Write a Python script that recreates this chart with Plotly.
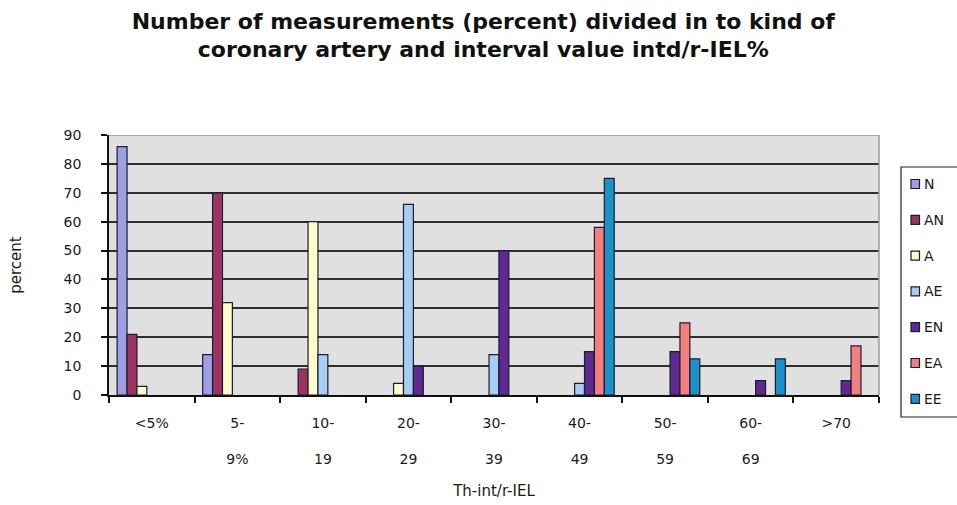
import plotly.graph_objects as go

# Interval classes of intd/r-IEL%
categories = ["<5%", "5-9%", "10-19", "20-29", "30-39", "40-49", "50-59", "60-69", ">70"]
tick_labels = ["<5%", "5-<br><br>9%", "10-<br><br>19", "20-<br><br>29", "30-<br><br>39",
               "40-<br><br>49", "50-<br><br>59", "60-<br><br>69", ">70"]

# Percent of measurements per coronary artery kind
N  = [86, 14, 0, 0, 0, 0, 0, 0, 0]
AN = [21, 70, 9, 0, 0, 0, 0, 0, 0]
A  = [3, 32, 60, 4, 0, 0, 0, 0, 0]
AE = [0, 0, 14, 66, 14, 4, 0, 0, 0]
EN = [0, 0, 0, 10, 50, 15, 15, 5, 5]
EA = [0, 0, 0, 0, 0, 58, 25, 0, 17]
EE = [0, 0, 0, 0, 0, 75, 12.5, 12.5, 0]

series = [
    ("N", N, "#9c9ee6"),
    ("AN", AN, "#9c3462"),
    ("A", A, "#fdfdcc"),
    ("AE", AE, "#a8cdf2"),
    ("EN", EN, "#5e2a91"),
    ("EA", EA, "#f47e7e"),
    ("EE", EE, "#1b93c6"),
]

FONT = "DejaVu Sans"
OUTLINE = "#1c1c30"

# figure geometry (pixels)
W, H = 957, 505
ML, MR, MT, MB = 109, 78, 135, 110
PW, PH = W - ML - MR, H - MT - MB


def px_x(p):
    return (p - ML) / PW


def px_y(p):
    return (H - MB - p) / PH


fig = go.Figure()
for name, vals, color in series:
    fig.add_trace(go.Bar(
        x=categories, y=[v if v else None for v in vals], name=name,
        marker=dict(color=color, line=dict(color=OUTLINE, width=1.2)),
        showlegend=False,
    ))

fig.update_layout(
    width=W, height=H,
    margin=dict(l=ML, r=MR, t=MT, b=MB, autoexpand=False),
    paper_bgcolor="white",
    plot_bgcolor="#e0e0e0",
    barmode="group", bargap=0.19, bargroupgap=0,
    font=dict(family=FONT, size=14, color="#1a1a1a"),
    title=dict(
        text="Number of measurements (percent) divided in to kind of<br>coronary artery and interval value intd/r-IEL%",
        font=dict(family=FONT, size=22, color="#111111", weight="bold"),
        x=0.505, xanchor="center", y=0.943, yanchor="top",
    ),
)

fig.update_xaxes(
    type="category",
    tickvals=categories, ticktext=tick_labels,
    tickson="boundaries", ticks="outside", ticklen=6, tickwidth=1.5, tickcolor="#111111",
    showline=True, linecolor="#111111", linewidth=1.5,
    showgrid=False, ticklabelstandoff=14,
    tickfont=dict(family=FONT, size=14),
    title=dict(text="Th-int/r-IEL", font=dict(family=FONT, size=15), standoff=20),
    range=[-0.5, 8.5],
)
fig.update_yaxes(
    range=[0, 90], dtick=10, tick0=0,
    ticks="outside", ticklen=6, tickwidth=1.5, tickcolor="#111111",
    showline=True, linecolor="#111111", linewidth=1.5,
    showgrid=True, gridcolor="#2e2e2e", gridwidth=1.8,
    zeroline=False, ticklabelstandoff=17,
    tickfont=dict(family=FONT, size=14),
    title=dict(text="percent", font=dict(family=FONT, size=15), standoff=38),
)

# light frame on the top and right of the plot area
fig.add_shape(type="line", xref="paper", yref="y", x0=0, x1=1, y0=90, y1=90,
              line=dict(color="#9a9a9a", width=1.5), layer="above")
fig.add_shape(type="line", xref="paper", yref="y", x0=1, x1=1, y0=0, y1=90,
              line=dict(color="#9a9a9a", width=1.5), layer="above")

# legend box running off the right edge
fig.add_shape(type="rect", xref="paper", yref="paper",
              x0=px_x(901), x1=px_x(970), y0=px_y(417), y1=px_y(167),
              line=dict(color="#222222", width=1.2), fillcolor="white", layer="above")
row0, row_step = 184, 35.8
for i, (name, _, color) in enumerate(series):
    cy = row0 + i * row_step
    fig.add_shape(type="rect", xref="paper", yref="paper",
                  x0=px_x(911), x1=px_x(919.5), y0=px_y(cy + 4.5), y1=px_y(cy - 4.5),
                  line=dict(color=OUTLINE, width=1.2), fillcolor=color, layer="above")
    fig.add_annotation(x=px_x(922), y=px_y(cy), xref="paper", yref="paper",
                       text=name, showarrow=False, xanchor="left", yanchor="middle",
                       font=dict(family=FONT, size=14, color="#1a1a1a"))

fig.write_html("out.html")
